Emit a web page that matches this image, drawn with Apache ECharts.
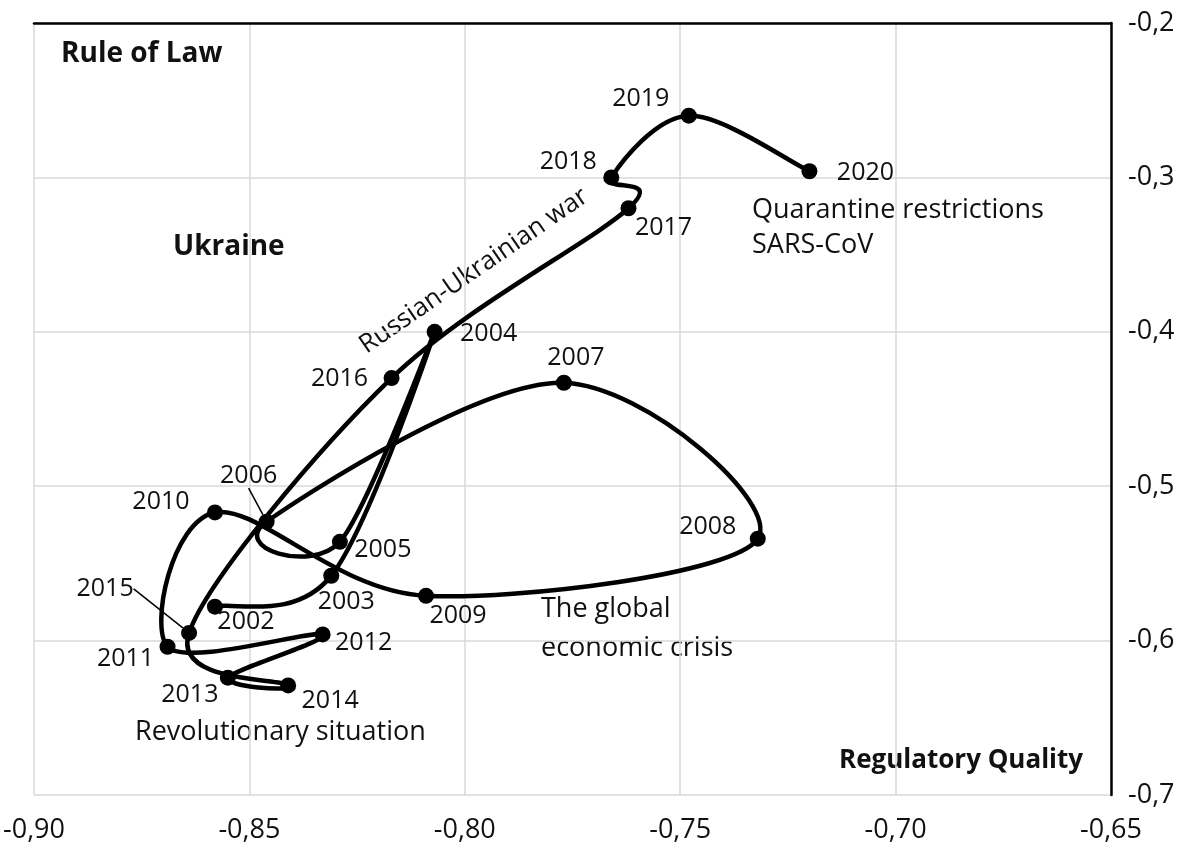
<!DOCTYPE html>
<html>
<head>
<meta charset="utf-8">
<title>Ukraine: Regulatory Quality and Rule of Law</title>
<script src="https://cdn.jsdelivr.net/npm/echarts@6/dist/echarts.min.js"></script>
<style>
    html, body { margin: 0; padding: 0; background: #fff; }
    #chart { width: 1186px; height: 846px; }
</style>
</head>
<body>
<div id="chart"></div>
<script>
// years in the order the curve runs through them
var years = ['2002', '2003', '2004', '2005', '2006', '2007', '2008', '2009', '2010', '2011',
             '2012', '2013', '2014', '2015', '2016', '2017', '2018', '2019', '2020'];
// Regulatory Quality (x)
var regulatoryQuality = [-0.858, -0.831, -0.807, -0.829, -0.846, -0.777, -0.732, -0.809, -0.858, -0.869,
                         -0.833, -0.855, -0.841, -0.864, -0.817, -0.762, -0.766, -0.748, -0.720];
// Rule of Law (y)
var ruleOfLaw = [-0.578, -0.558, -0.400, -0.536, -0.523, -0.433, -0.534, -0.571, -0.517, -0.604,
                 -0.596, -0.624, -0.629, -0.595, -0.430, -0.320, -0.300, -0.260, -0.296];
// labels with a leader line to their point
var leaderYears = ['2006', '2015'];

// where each year label sits, relative to its point (px)
var labelOffsets = {
    '2002': [31, 15], '2003': [15, 26], '2004': [54, 2], '2005': [43, 8], '2006': [-18, -46],
    '2007': [12, -25], '2008': [-50, -12], '2009': [32, 20], '2010': [-54, -11], '2011': [-42, 12],
    '2012': [41, 8], '2013': [-38, 17], '2014': [42, 15], '2015': [-84, -44], '2016': [-52, 1],
    '2017': [35, 20], '2018': [-43, -16], '2019': [-48, -17], '2020': [56, 2]
};

var FONT = '"Open Sans"';
var TXT = '#111';
var TENSION = 1 / 6;   // spreadsheet-style smoothing

var chart = echarts.init(document.getElementById('chart'));

var points = years.map(function (y, i) {
    var item = { name: y, value: [regulatoryQuality[i], ruleOfLaw[i]] };
    if (leaderYears.indexOf(y) >= 0) {
        item.labelLine = { show: true, lineStyle: { color: '#000', width: 1.5 } };
    }
    return item;
});

function comma(v, d) {
    return v.toFixed(d).replace('.', ',');
}

function note(text, x, y, size, extra) {
    return { type: 'text', x: x, y: y,
             style: { text: text, font: (extra || '') + size + 'px ' + FONT, fill: TXT,
                      verticalAlign: 'middle' } };
}

// one smoothed piece of the curve from point i to point i+1
function renderSegment(params, api) {
    var i = params.dataIndex;
    var n = params.dataInsideLength;
    if (i >= n - 1) return null;
    function pt(k) {
        k = Math.max(0, Math.min(n - 1, k));
        return api.coord([api.value(0, k), api.value(1, k)]);
    }
    var p0 = pt(i - 1), p1 = pt(i), p2 = pt(i + 1), p3 = pt(i + 2);
    return {
        type: 'bezierCurve',
        shape: {
            x1: p1[0], y1: p1[1],
            x2: p2[0], y2: p2[1],
            cpx1: p1[0] + (p2[0] - p0[0]) * TENSION,
            cpy1: p1[1] + (p2[1] - p0[1]) * TENSION,
            cpx2: p2[0] - (p3[0] - p1[0]) * TENSION,
            cpy2: p2[1] - (p3[1] - p1[1]) * TENSION
        },
        style: { stroke: '#000', lineWidth: 4.5, fill: 'none', lineCap: 'round' },
        silent: true
    };
}

var option = {
    backgroundColor: '#fff',
    animation: false,
    textStyle: { fontFamily: FONT },
    grid: { left: 32, right: 75, top: 23, bottom: 51 },
    xAxis: [{
        type: 'value',
        min: -0.9, max: -0.65, interval: 0.05,
        position: 'bottom',
        axisLine: { show: false },
        axisTick: { show: false },
        axisLabel: {
            margin: 22, fontSize: 27, color: TXT, fontFamily: FONT,
            formatter: function (v) { return comma(v, 2); }
        },
        splitLine: { show: true, lineStyle: { color: '#d9d9d9', width: 1.5 } }
    }, {
        type: 'value',
        min: -0.9, max: -0.65, interval: 0.05,
        position: 'top',
        axisLine: { show: true, onZero: false, lineStyle: { color: '#000', width: 2.5 } },
        axisTick: { show: false },
        axisLabel: { show: false },
        splitLine: { show: false }
    }],
    yAxis: {
        type: 'value',
        min: -0.7, max: -0.2, interval: 0.1,
        position: 'right',
        axisLine: { show: true, onZero: false, lineStyle: { color: '#000', width: 2.5 } },
        axisTick: { show: false },
        axisLabel: {
            margin: 17, fontSize: 27, color: TXT, fontFamily: FONT,
            formatter: function (v) { return comma(v, 1); }
        },
        splitLine: { show: true, lineStyle: { color: '#d9d9d9', width: 1.5 } }
    },
    series: [{
        type: 'custom',
        xAxisIndex: 0,
        data: points,
        renderItem: renderSegment,
        z: 2
    }, {
        type: 'scatter',
        xAxisIndex: 0,
        data: points,
        symbol: 'circle',
        symbolSize: 16,
        itemStyle: { color: '#000', opacity: 1 },
        label: {
            show: true,
            position: 'inside',
            formatter: '{b}',
            fontSize: 25,
            fontFamily: FONT,
            color: TXT
        },
        labelLine: { show: false },
        labelLayout: function (p) {
            var o = labelOffsets[years[p.dataIndex]];
            return { dx: o[0], dy: o[1] };
        },
        z: 3
    }],
    graphic: [
        note('Rule of Law', 61, 54, 28, 'bold '),
        note('Ukraine', 173, 247, 28, 'bold '),
        note('Regulatory Quality', 839, 761, 26, 'bold '),
        { type: 'text', x: 474, y: 271, rotation: 34.6 * Math.PI / 180,
          style: { text: 'Russian-Ukrainian war', font: '26px ' + FONT, fill: TXT,
                   align: 'center', verticalAlign: 'middle' } },
        note('Quarantine restrictions', 752, 210, 27),
        note('SARS-CoV', 752, 245, 27),
        note('The global', 541, 609, 27),
        note('economic crisis', 541, 648, 27),
        note('Revolutionary situation', 135, 732, 27)
    ]
};

chart.setOption(option);
</script>
</body>
</html>
